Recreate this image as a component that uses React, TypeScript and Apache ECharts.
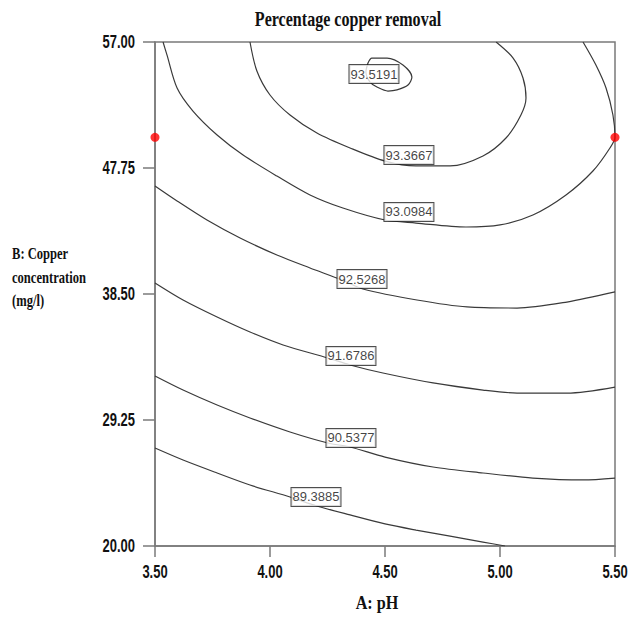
import React, { useEffect, useRef } from "react";
import * as echarts from "echarts";

// Axis ticks
const xTicks = [3.5, 4.0, 4.5, 5.0, 5.5];
const yTicks = [20, 29.25, 38.5, 47.75, 57];

// Contour lines (A: pH, B: copper concentration)
const c893885 = [
  [3.5, 27.19], [3.622, 26.31], [3.77, 25.36], [3.913, 24.48], [4.087, 23.6], [4.204, 22.94],
  [4.348, 22.28], [4.5, 21.62], [4.635, 21.17], [4.783, 20.73], [4.926, 20.29], [5.022, 20.0],
];
const c905377 = [
  [3.5, 32.48], [3.622, 31.45], [3.77, 30.35], [3.913, 29.4], [4.087, 28.37], [4.252, 27.56],
  [4.348, 27.27], [4.5, 26.53], [4.709, 25.8], [4.926, 25.36], [5.143, 24.99], [5.361, 24.85], [5.5, 24.99],
];
const c916786 = [
  [3.5, 39.31], [3.622, 38.06], [3.77, 36.81], [3.913, 35.71], [4.057, 34.76], [4.252, 33.8],
  [4.348, 33.29], [4.491, 32.7], [4.709, 31.97], [4.926, 31.45], [5.074, 31.23], [5.291, 31.23], [5.5, 31.67],
];
const c925268 = [
  [3.5, 46.43], [3.596, 45.33], [3.726, 43.93], [3.87, 42.61], [4.03, 41.36], [4.174, 40.41],
  [4.313, 39.53], [4.404, 38.87], [4.639, 38.06], [4.857, 37.55], [5.074, 37.47], [5.291, 37.91], [5.5, 38.65],
];
const c930984 = [
  [3.535, 57], [3.552, 56.05], [3.596, 53.62], [3.665, 51.93], [3.77, 50.17], [3.883, 48.7],
  [4.03, 47.16], [4.174, 45.77], [4.317, 44.81], [4.5, 43.93], [4.635, 43.71], [4.852, 43.42],
  [5.0, 43.57], [5.143, 44.3], [5.287, 45.77], [5.404, 47.53], [5.478, 49.22], [5.5, 50.03],
  [5.491, 51.64], [5.461, 53.62], [5.417, 55.31], [5.361, 57],
];
const c933667 = [
  [3.913, 57], [3.943, 54.87], [4.0, 53.11], [4.087, 51.64], [4.204, 50.32], [4.348, 49.22],
  [4.5, 48.26], [4.635, 47.9], [4.783, 47.9], [4.926, 48.63], [5.026, 49.95], [5.091, 51.64],
  [5.113, 52.89], [5.1, 54.36], [5.057, 55.82], [4.983, 57],
];
const c935191 = [
  [4.426, 55.46], [4.443, 55.82], [4.509, 55.82], [4.578, 55.31], [4.617, 54.43], [4.6, 53.84],
  [4.552, 53.48], [4.513, 53.4], [4.465, 53.7], [4.435, 54.06], [4.417, 54.8], [4.426, 55.46],
];
const contours = [c893885, c905377, c916786, c925268, c930984, c933667, c935191];

// Contour labels and their positions
const labelTexts = ["89.3885", "90.5377", "91.6786", "92.5268", "93.0984", "93.3667", "93.5191"];
const labelPositions = [
  [4.2, 23.6], [4.352, 27.93], [4.352, 33.95], [4.4, 39.6], [4.604, 44.52], [4.604, 48.7], [4.452, 54.65],
];

// Design points (red)
const designPoints = [[3.5, 50.0], [5.5, 50.0]];

const SANS = "'Liberation Sans', Arial, sans-serif";
const SERIF = "'Liberation Serif', 'Times New Roman', serif";

export default function App() {
  const ref = useRef<HTMLDivElement>(null);

  useEffect(() => {
    if (!ref.current) return;
    const chart = echarts.init(ref.current, null, { renderer: "svg" });
    const axisColor = "#7a7a7a";
    const gridLeft = 155;
    const gridBottom = 77;
    const height = 623;

    chart.setOption({
      animation: false,
      backgroundColor: "#fff",
      grid: {
        left: gridLeft,
        right: 13,
        top: 42,
        bottom: gridBottom,
        containLabel: false,
        outerBoundsMode: "none",
        show: true,
        borderColor: axisColor,
        borderWidth: 1.5,
      },
      xAxis: {
        type: "value",
        min: 3.5,
        max: 5.5,
        interval: 0.5,
        axisLine: { show: true, lineStyle: { color: axisColor, width: 1.5 } },
        axisTick: { show: true, length: 11, customValues: xTicks, lineStyle: { color: axisColor, width: 1.5 } },
        axisLabel: { show: false },
        splitLine: { show: false },
      },
      yAxis: {
        type: "value",
        min: 20,
        max: 57,
        axisLine: { show: true, lineStyle: { color: axisColor, width: 1.5 } },
        axisTick: { show: true, length: 12, customValues: yTicks, lineStyle: { color: axisColor, width: 1.5 } },
        axisLabel: { show: false },
        splitLine: { show: false },
      },
      series: [
        ...contours.map((d, i) => ({
          type: "line",
          name: labelTexts[i],
          data: d,
          showSymbol: false,
          smooth: 0.3,
          silent: true,
          lineStyle: { color: "#3a3a3a", width: 1.2 },
          z: 2,
        })),
        {
          type: "scatter",
          data: labelPositions.map((p, i) => ({ value: p, name: labelTexts[i] })),
          symbolSize: 1,
          itemStyle: { color: "rgba(0,0,0,0)" },
          silent: true,
          z: 5,
          label: {
            show: true,
            position: "inside",
            formatter: "{b}",
            color: "#111",
            fontSize: 13,
            fontFamily: SANS,
            backgroundColor: "#fff",
            borderColor: "#222",
            borderWidth: 1,
            padding: [3, 1, 2, 1],
          },
          labelLayout: { hideOverlap: false },
        },
        {
          type: "scatter",
          data: designPoints,
          symbolSize: 9,
          clip: false,
          silent: true,
          itemStyle: { color: "#ff0000" },
          z: 10,
        },
      ],
    });

    // Tick labels drawn through the axes' own scales (condensed bold text)
    const tickStyle = {
      fontSize: 18,
      fontWeight: "bold",
      fontFamily: SANS,
      fill: "#111",
    };
    const xLabelEls = xTicks.map((v) => {
      const p = chart.convertToPixel({ gridIndex: 0 }, [v, 20]) as number[];
      return {
        type: "text",
        x: p[0],
        y: height - gridBottom + 17,
        scaleX: 0.72,
        style: { ...tickStyle, text: v.toFixed(2), align: "center", verticalAlign: "top" },
      };
    });
    const yLabelEls = yTicks.map((v) => {
      const p = chart.convertToPixel({ gridIndex: 0 }, [3.5, v]) as number[];
      return {
        type: "text",
        x: gridLeft - 20,
        y: p[1],
        scaleX: 0.72,
        style: { ...tickStyle, text: v.toFixed(2), align: "right", verticalAlign: "middle" },
      };
    });

    chart.setOption({
      graphic: [
        {
          type: "text",
          x: 348,
          y: 19,
          scaleX: 0.73,
          style: {
            text: "Percentage copper removal",
            fontSize: 22,
            fontWeight: "bold",
            fontFamily: SERIF,
            fill: "#111",
            align: "center",
            verticalAlign: "middle",
          },
        },
        ...["B: Copper", "concentration", "(mg/l)"].map((t, i) => ({
          type: "text",
          x: 12,
          y: [253, 277, 300][i],
          scaleX: 0.74,
          style: {
            text: t,
            fontSize: 17,
            fontWeight: "bold",
            fontFamily: SERIF,
            fill: "#111",
            align: "left",
            verticalAlign: "middle",
          },
        })),
        {
          type: "text",
          x: 377,
          y: 603,
          scaleX: 0.85,
          style: {
            text: "A: pH",
            fontSize: 19,
            fontWeight: "bold",
            fontFamily: SERIF,
            fill: "#111",
            align: "center",
            verticalAlign: "middle",
          },
        },
        ...xLabelEls,
        ...yLabelEls,
      ],
    });
    return () => chart.dispose();
  }, []);

  return (
    <div
      ref={ref}
      style={{ position: "fixed", left: 0, top: 0, width: 628, height: 623, background: "#fff" }}
    />
  );
}
